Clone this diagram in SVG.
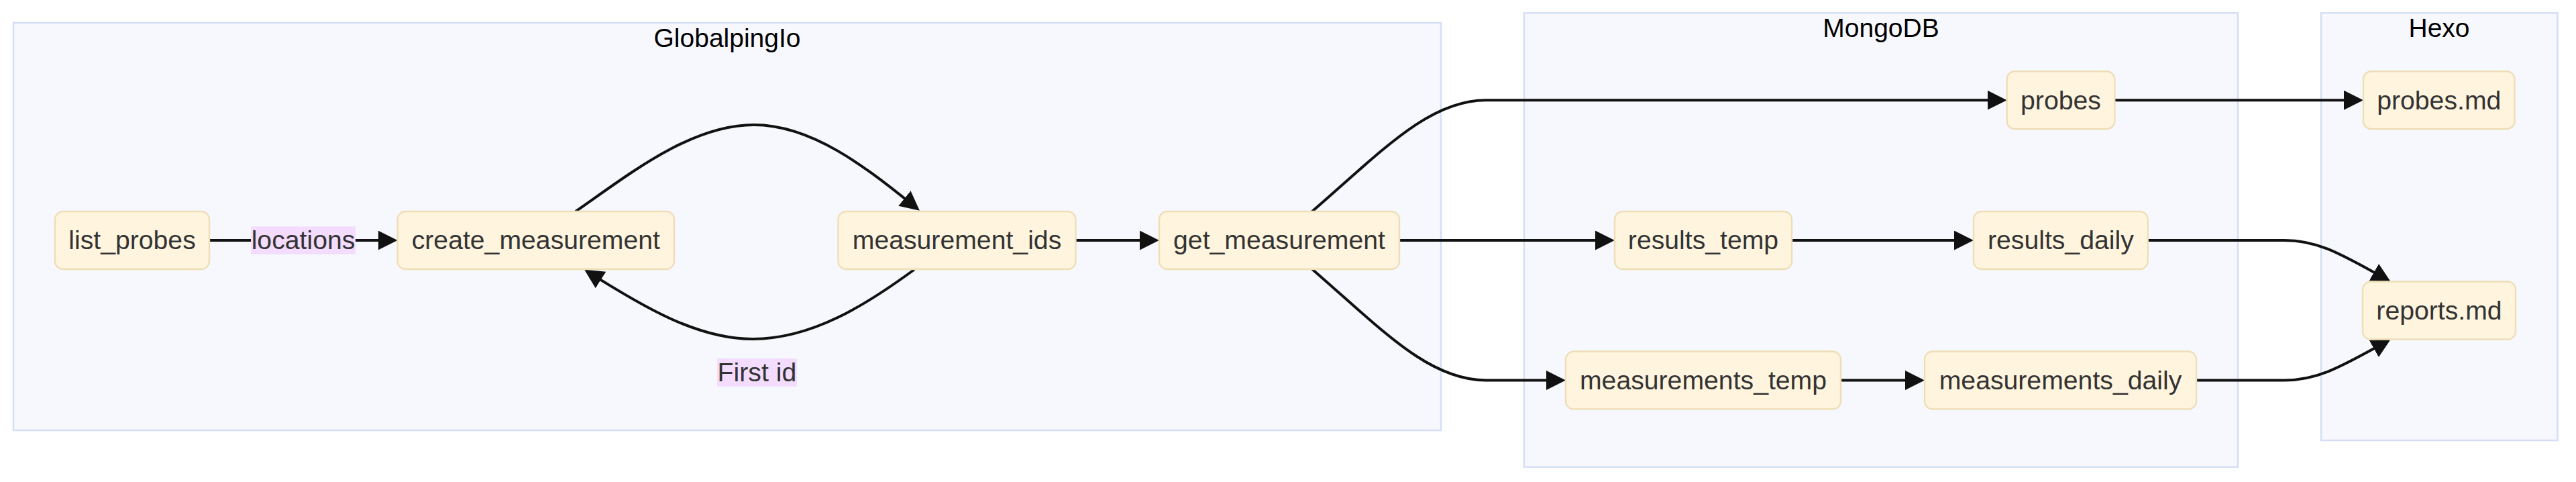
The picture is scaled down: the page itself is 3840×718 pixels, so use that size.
<svg xmlns="http://www.w3.org/2000/svg" width="3840" height="718" viewBox="0 0 3840 718">
<style>
.cluster rect{fill:#f7f8fe;stroke:#d3ddf4;stroke-width:2.4}
.ctitle{font-family:"Liberation Sans",Arial,sans-serif;font-size:39px;fill:#000;text-anchor:middle}
.node rect{fill:#fff4de;stroke:#eedeb6;stroke-width:2.4}
.node text,.elabel text{font-family:"Liberation Sans",Arial,sans-serif;font-size:39.2px;fill:#333;text-anchor:middle}
.elabel rect{fill:#f3dcfd}
.edge{fill:none;stroke:#111;stroke-width:4;marker-end:url(#arrow)}
</style>
<defs>
<marker id="arrow" viewBox="0 0 10 10" refX="8.5" refY="5" markerUnits="userSpaceOnUse" markerWidth="29" markerHeight="29" orient="auto">
<path d="M0,0 L10,5 L0,10 z" fill="#111"/>
</marker>
</defs>
<rect width="3840" height="718" fill="#fff"/>
<g id="clusters">
<g id="cluster-GlobalpingIo" class="cluster"><rect x="20" y="34" width="2128" height="607"/><text class="ctitle" x="1084" y="69.5">GlobalpingIo</text></g>
<g id="cluster-MongoDB" class="cluster"><rect x="2272" y="19.3" width="1064" height="676.4"/><text class="ctitle" x="2804" y="55">MongoDB</text></g>
<g id="cluster-Hexo" class="cluster"><rect x="3460" y="19.3" width="352.5" height="636.7"/><text class="ctitle" x="3636" y="55">Hexo</text></g>
</g>
<g id="connectors">
<path class="edge" d="M312,358 L588.3,358"/>
<path class="edge" d="M858,315 C940,258 1030,186 1124,186 C1210,186 1290,248 1367.5,311"/>
<path class="edge" d="M1363,401.5 C1290,455 1210,505 1122,505 C1040,505 960,458 874.7,403.9"/>
<path class="edge" d="M1603.5,358 L1723.6,358"/>
<path class="edge" d="M1956,315 C2060,225 2130,149.2 2215,149.2 L2987.3,149.2"/>
<path class="edge" d="M2086,358 L2402.6,358"/>
<path class="edge" d="M1956,401 C2060,491 2130,566.5 2215,566.5 L2329.6,566.5"/>
<path class="edge" d="M2671,358 L2937.6,358"/>
<path class="edge" d="M2744,566.5 L2864.6,566.5"/>
<path class="edge" d="M3152.3,149.2 L3518.6,149.2"/>
<path class="edge" d="M3201.7,358 L3405,358 C3450,358 3480,372 3560.2,417.8"/>
<path class="edge" d="M3274,566.5 L3405,566.5 C3450,566.5 3480,552.5 3560.2,507.2"/>
</g>
<g id="edge-labels">
<g class="elabel" id="label-locations"><rect x="374" y="337.3" width="156" height="41.4"/><text x="452" y="371.4">locations</text></g>
<g class="elabel" id="label-first-id"><rect x="1069" y="534" width="118.7" height="41.7"/><text x="1128.4" y="568.2">First id</text></g>
</g>
<g id="nodes">
<g id="list_probes" class="node"><rect x="82" y="315" width="230" height="86" rx="12"/><text x="197" y="371.3">list_probes</text></g>
<g id="create_measurement" class="node"><rect x="592.7" y="315" width="412.3" height="86" rx="12"/><text x="798.85" y="371.3">create_measurement</text></g>
<g id="measurement_ids" class="node"><rect x="1249.5" y="315" width="354" height="86" rx="12"/><text x="1426.5" y="371.3">measurement_ids</text></g>
<g id="get_measurement" class="node"><rect x="1728" y="315" width="358" height="86" rx="12"/><text x="1907" y="371.3">get_measurement</text></g>
<g id="results_temp" class="node"><rect x="2407" y="315" width="264" height="86" rx="12"/><text x="2539" y="371.3">results_temp</text></g>
<g id="results_daily" class="node"><rect x="2942" y="315" width="259.7" height="86" rx="12"/><text x="3071.85" y="371.3">results_daily</text></g>
<g id="probes" class="node"><rect x="2991.7" y="106.2" width="160.6" height="86" rx="12"/><text x="3072" y="162.5">probes</text></g>
<g id="measurements_temp" class="node"><rect x="2334" y="523.5" width="410" height="86" rx="12"/><text x="2539" y="579.8">measurements_temp</text></g>
<g id="measurements_daily" class="node"><rect x="2869" y="523.5" width="405" height="86" rx="12"/><text x="3071.5" y="579.8">measurements_daily</text></g>
<g id="probes_md" class="node"><rect x="3523" y="106.2" width="225.5" height="86" rx="12"/><text x="3635.75" y="162.5">probes.md</text></g>
<g id="reports_md" class="node"><rect x="3522" y="419.5" width="228" height="86" rx="12"/><text x="3636" y="475.8">reports.md</text></g>
</g>
</svg>
